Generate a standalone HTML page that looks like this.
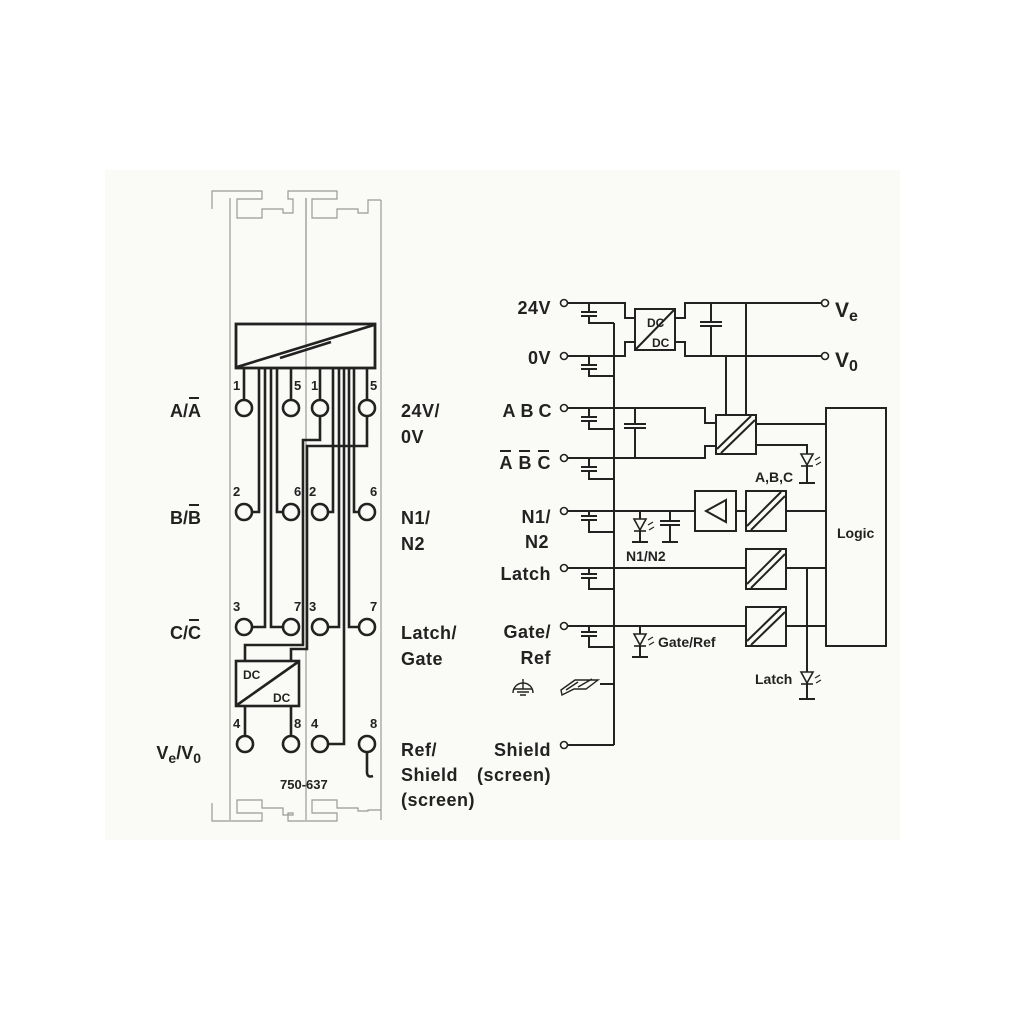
<!DOCTYPE html>
<html><head><meta charset="utf-8"><style>
html,body{margin:0;padding:0;background:#fff;}
svg{display:block;}
text{font-family:"Liberation Sans",sans-serif;font-weight:bold;fill:#222;}
</style></head><body>
<svg width="1010" height="1010" viewBox="0 0 1010 1010" xmlns="http://www.w3.org/2000/svg">
<rect x="0" y="0" width="1010" height="1010" fill="#fff"/>
<rect x="105" y="170" width="795" height="670" fill="#fafaf6"/>

<g fill="none" stroke="#999" stroke-width="1.2">
<path d="M230,198 V820 M306,198 V820 M381,200 V820"/>
<path d="M212,209 V191 H262 V199 H237 V218 H262 V209 H283 V213 H293 V199 H288 V191 H337 V199 H312 V218 H337 V209 H358 V213 H368 V200 H381"/>
<path d="M212,803 V821 H262 V813 H237 V800 H262 V808 H283 V815 H293 V813 H288 V821 H337 V813 H312 V800 H337 V808 H358 V811 H368 V810 H381"/>
</g>

<g fill="none" stroke="#222" stroke-width="2.6">
<line x1="306" y1="198" x2="306" y2="324" stroke="#999" stroke-width="1.2"/>
<rect x="236" y="324" width="139" height="44" stroke-width="2.8"/>
<line x1="237" y1="367" x2="374" y2="325"/>
<line x1="280" y1="358" x2="331" y2="342"/>

<path d="M244,368 V400"/>
<path d="M259,368 V512 H252"/>
<path d="M265,368 V627 H252"/>
<path d="M271,368 V627 H283"/>
<path d="M277,368 V512 H283"/>
<path d="M291,368 V400"/>
<path d="M320,368 V400"/>
<path d="M333,368 V512 H328"/>
<path d="M339,368 V627 H328"/>
<path d="M344,368 V744 H328"/>
<path d="M349,368 V627 H359"/>
<path d="M354,368 V512 H359"/>
<path d="M367,368 V400"/>
<path d="M320,416 V440 H303 V645 H245 V661"/>
<path d="M367,416 V446 H307 V649 H291 V661"/>
<rect x="236" y="661" width="63" height="45"/>
<line x1="237" y1="705" x2="298" y2="662"/>
<path d="M245,706 V736 M291,706 V736"/>
<path d="M367,752 V772 Q367,778 373,776"/>
<g fill="#fafaf6">
<circle cx="244" cy="408" r="8"/><circle cx="291" cy="408" r="8"/><circle cx="320" cy="408" r="8"/><circle cx="367" cy="408" r="8"/>
<circle cx="244" cy="512" r="8"/><circle cx="291" cy="512" r="8"/><circle cx="320" cy="512" r="8"/><circle cx="367" cy="512" r="8"/>
<circle cx="244" cy="627" r="8"/><circle cx="291" cy="627" r="8"/><circle cx="320" cy="627" r="8"/><circle cx="367" cy="627" r="8"/>
<circle cx="245" cy="744" r="8"/><circle cx="291" cy="744" r="8"/><circle cx="320" cy="744" r="8"/><circle cx="367" cy="744" r="8"/>
</g>
</g>

<g font-size="13">
<text x="233" y="390">1</text><text x="294" y="390">5</text><text x="311" y="390">1</text><text x="370" y="390">5</text>
<text x="233" y="496">2</text><text x="294" y="496">6</text><text x="309" y="496">2</text><text x="370" y="496">6</text>
<text x="233" y="611">3</text><text x="294" y="611">7</text><text x="309" y="611">3</text><text x="370" y="611">7</text>
<text x="233" y="728">4</text><text x="294" y="728">8</text><text x="311" y="728">4</text><text x="370" y="728">8</text>
<text x="243" y="679" font-size="12">DC</text><text x="273" y="702" font-size="12">DC</text>
<text x="280" y="789" font-weight="normal" font-size="13">750-637</text>
</g>
<g font-size="18" text-anchor="end">
<text x="201" y="417">A/A</text>
<text x="201" y="524">B/B</text>
<text x="201" y="639">C/C</text>
<text x="201" y="759">V<tspan font-size="14" dy="4">e</tspan><tspan dy="-4">/V</tspan><tspan font-size="14" dy="4">0</tspan></text>
</g>
<g stroke="#222" stroke-width="2">
<line x1="189" y1="398" x2="199" y2="398"/>
<line x1="189" y1="505" x2="199" y2="505"/>
<line x1="189" y1="620" x2="199" y2="620"/>
</g>
<g font-size="18" letter-spacing="0.5">
<text x="401" y="417">24V/</text><text x="401" y="443">0V</text>
<text x="401" y="524">N1/</text><text x="401" y="550">N2</text>
<text x="401" y="639">Latch/</text><text x="401" y="665">Gate</text>
<text x="401" y="756">Ref/</text><text x="401" y="781">Shield</text><text x="401" y="806">(screen)</text>
</g>

<g fill="none" stroke="#222" stroke-width="2">
<path d="M614,323 V745"/>
<path d="M567,303 H625 V318 H635"/>
<path d="M567,356 H625 V342 H635"/>
<rect x="635" y="309" width="40" height="41"/>
<line x1="636" y1="349" x2="674" y2="310"/>
<path d="M675,318 H685 V303 H821"/>
<path d="M675,342 H685 V356 H821"/>
<path d="M711,303 V322 M700,322 H722 M700,326 H722 M711,326 V356"/>
<path d="M726,356 V415 M746,303 V415"/>
<path d="M567,408 H705 V423 H716"/>
<path d="M567,458 H705 V446 H716"/>
<path d="M635,408 V424 M624,424 H646 M624,428 H646 M635,428 V458"/>
<rect x="716" y="415" width="40" height="39"/>
<line x1="717" y1="449" x2="751" y2="416"/><line x1="721" y1="453" x2="755" y2="420"/>
<path d="M756,424 H826"/>
<path d="M756,445 H807 V483 M799,483 H815"/>
<rect x="826" y="408" width="60" height="238"/>
<path d="M567,511 H695"/>
<rect x="695" y="491" width="41" height="40"/>
<path d="M726,500 L706,511 L726,522 Z"/>
<path d="M736,511 H746"/>
<rect x="746" y="491" width="40" height="40"/>
<line x1="747" y1="526" x2="781" y2="492"/><line x1="751" y1="530" x2="785" y2="496"/>
<path d="M786,511 H826"/>
<path d="M640,511 V542 M632,542 H648"/>
<path d="M670,511 V521 M660,521 H680 M660,525 H680 M670,525 V542 M662,542 H678"/>
<path d="M567,568 H746"/>
<rect x="746" y="549" width="40" height="40"/>
<line x1="747" y1="584" x2="781" y2="550"/><line x1="751" y1="588" x2="785" y2="554"/>
<path d="M786,568 H826"/>
<path d="M567,626 H746"/>
<rect x="746" y="607" width="40" height="39"/>
<line x1="747" y1="641" x2="781" y2="608"/><line x1="751" y1="645" x2="785" y2="612"/>
<path d="M786,626 H826"/>
<path d="M807,568 V699 M799,699 H815"/>
<path d="M640,626 V657 M632,657 H648"/>
<path d="M600,684 H614"/>
<path d="M567,745 H614"/>
<path d="M589,303 V312 M581,312 H597 M581,316 H597 M589,316 V323 H614"/>
<path d="M589,356 V365 M581,365 H597 M581,369 H597 M589,369 V376 H614"/>
<path d="M589,408 V417 M581,417 H597 M581,421 H597 M589,421 V429 H614"/>
<path d="M589,458 V467 M581,467 H597 M581,471 H597 M589,471 V479 H614"/>
<path d="M589,511 V516 M581,516 H597 M581,520 H597 M589,520 V532 H614"/>
<path d="M589,568 V574 M581,574 H597 M581,578 H597 M589,578 V589 H614"/>
<path d="M589,626 V632 M581,632 H597 M581,636 H597 M589,636 V647 H614"/>
</g>
<g stroke="#222" stroke-width="1.6" fill="#fafaf6">
<path d="M801,454 H813 L807,465 Z"/><line x1="801" y1="466" x2="813" y2="466"/>
<path d="M634,519 H646 L640,530 Z"/><line x1="634" y1="531" x2="646" y2="531"/>
<path d="M634,634 H646 L640,645 Z"/><line x1="634" y1="646" x2="646" y2="646"/>
<path d="M801,672 H813 L807,683 Z"/><line x1="801" y1="684" x2="813" y2="684"/>
<path d="M815,460 l5,-3 M816,465 l5,-3 M648,525 l5,-3 M649,530 l5,-3 M648,640 l5,-3 M649,645 l5,-3 M815,678 l5,-3 M816,683 l5,-3" fill="none" stroke-width="1.2"/>
</g>
<g fill="#fafaf6" stroke="#222" stroke-width="1.6">
<circle cx="564" cy="303" r="3.5"/><circle cx="564" cy="356" r="3.5"/><circle cx="564" cy="408" r="3.5"/><circle cx="564" cy="458" r="3.5"/>
<circle cx="564" cy="511" r="3.5"/><circle cx="564" cy="568" r="3.5"/><circle cx="564" cy="626" r="3.5"/><circle cx="564" cy="745" r="3.5"/>
<circle cx="825" cy="303" r="3.5"/><circle cx="825" cy="356" r="3.5"/>
</g>
<g fill="none" stroke="#222" stroke-width="1.4">
<path d="M513,693 A10,10 0 0 1 533,693"/>
<path d="M523,679 V689 M514,689 H532 M517,692 H529 M520,695 H526"/>
<path d="M561,690 L575,680 H598 L586,689 H574 L562,695 Z M566,690 L578,682 M578,687 L592,679"/>
</g>
<g font-size="18" text-anchor="end" letter-spacing="0.5">
<text x="551" y="314">24V</text>
<text x="551" y="364">0V</text>
<text x="551" y="523">N1/</text><text x="549" y="548">N2</text>
<text x="551" y="580">Latch</text>
<text x="551" y="638">Gate/</text><text x="551" y="664">Ref</text>
<text x="551" y="756">Shield</text><text x="551" y="781">(screen)</text>
</g>
<g font-size="18" text-anchor="middle">
<text x="509" y="417">A</text><text x="527" y="417">B</text><text x="545" y="417">C</text>
<text x="506" y="469">A</text><text x="525" y="469">B</text><text x="544" y="469">C</text>
</g>
<g stroke="#222" stroke-width="2">
<line x1="500" y1="451" x2="511" y2="451"/>
<line x1="519" y1="451" x2="530" y2="451"/>
<line x1="538" y1="451" x2="549" y2="451"/>
</g>
<g font-size="21">
<text x="835" y="317">V<tspan font-size="16" dy="4">e</tspan></text>
<text x="835" y="367">V<tspan font-size="16" dy="4">0</tspan></text>
</g>
<g font-size="14">
<text x="755" y="482">A,B,C</text>
<text x="626" y="561">N1/N2</text>
<text x="658" y="647">Gate/Ref</text>
<text x="755" y="684">Latch</text>
<text x="837" y="538">Logic</text>
<text x="647" y="327" font-size="12">DC</text><text x="652" y="347" font-size="12">DC</text>
</g>
</svg>
</body></html>
